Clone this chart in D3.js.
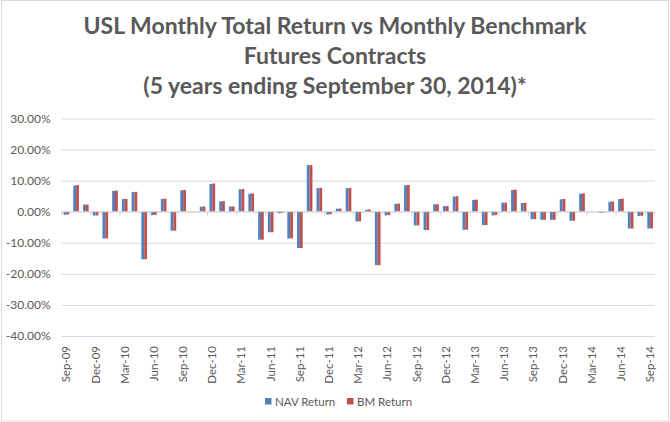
<!DOCTYPE html>
<html>
<head>
<meta charset="utf-8">
<script src="https://cdn.jsdelivr.net/npm/d3@7"></script>
<style>
  html, body { margin: 0; padding: 0; background: #fff; }
  svg { display: block; font-family: Lato, "Open Sans", sans-serif; }
</style>
</head>
<body>
<svg id="chart"></svg>
<script>
// months Sep-09 .. Sep-14
var months = ["Sep-09","Oct-09","Nov-09","Dec-09","Jan-10","Feb-10","Mar-10","Apr-10","May-10","Jun-10",
  "Jul-10","Aug-10","Sep-10","Oct-10","Nov-10","Dec-10","Jan-11","Feb-11","Mar-11","Apr-11",
  "May-11","Jun-11","Jul-11","Aug-11","Sep-11","Oct-11","Nov-11","Dec-11","Jan-12","Feb-12",
  "Mar-12","Apr-12","May-12","Jun-12","Jul-12","Aug-12","Sep-12","Oct-12","Nov-12","Dec-12",
  "Jan-13","Feb-13","Mar-13","Apr-13","May-13","Jun-13","Jul-13","Aug-13","Sep-13","Oct-13",
  "Nov-13","Dec-13","Jan-14","Feb-14","Mar-14","Apr-14","May-14","Jun-14","Jul-14","Aug-14","Sep-14"];

// monthly returns, in percent
var navReturn = [-1.0, 8.4, 2.3, -1.2, -8.6, 6.7, 4.1, 6.3, -15.3, -1.1,
  4.1, -6.1, 6.9, 0.1, 1.6, 8.9, 3.3, 1.7, 7.2, 5.8,
  -9.0, -6.6, -0.5, -8.6, -11.7, 15.0, 7.6, -0.9, 1.0, 7.6,
  -3.1, 0.6, -17.2, -1.2, 2.5, 8.5, -4.4, -5.9, 2.4, 1.8,
  4.9, -5.8, 3.8, -4.3, -1.2, 2.9, 7.0, 2.8, -2.4, -2.6,
  -2.6, 4.0, -2.9, 5.8, 0.0, -0.3, 3.2, 4.1, -5.4, -1.4, -5.4];

var bmReturn = [-0.9, 8.6, 2.3, -1.2, -8.6, 6.8, 4.1, 6.4, -15.3, -1.0,
  4.2, -6.1, 7.0, 0.1, 1.7, 9.1, 3.4, 1.7, 7.3, 5.9,
  -9.0, -6.6, -0.4, -8.6, -11.7, 15.0, 7.7, -0.8, 1.0, 7.7,
  -3.1, 0.7, -17.2, -1.1, 2.6, 8.6, -4.4, -5.9, 2.4, 1.8,
  5.0, -5.8, 3.9, -4.3, -1.1, 2.9, 7.1, 2.9, -2.4, -2.6,
  -2.6, 4.1, -2.9, 5.9, 0.0, -0.3, 3.3, 4.2, -5.4, -1.3, -5.4];

var yTicks = [30, 20, 10, 0, -10, -20, -30, -40];
var seriesNames = ["NAV Return", "BM Return"];
var colors = ["#4F81BD", "#C0504D"];

var svgWidth = 670, svgHeight = 422;
var margin = { top: 118.5, right: 15, bottom: 86, left: 61.5 };
var width = svgWidth - margin.left - margin.right;
var height = svgHeight - margin.top - margin.bottom;

var svg = d3.select("#chart")
  .attr("width", svgWidth)
  .attr("height", svgHeight);

// outer border
svg.append("rect")
  .attr("x", 1.5).attr("y", 0.5)
  .attr("width", svgWidth - 3).attr("height", svgHeight - 1.5)
  .attr("fill", "#fff")
  .attr("stroke", "#d9d9d9");

// title
var titleLines = ["USL Monthly Total Return vs Monthly Benchmark",
                  "Futures Contracts",
                  "(5 years ending September 30, 2014)*"];
svg.append("g").selectAll("text")
  .data(titleLines)
  .enter().append("text")
  .attr("x", 335)
  .attr("y", function(d, i) { return 34 + i * 30; })
  .attr("text-anchor", "middle")
  .attr("font-size", 23)
  .attr("font-weight", "bold")
  .attr("fill", "#595959")
  .text(function(d) { return d; });

var g = svg.append("g")
  .attr("transform", "translate(" + margin.left + "," + margin.top + ")");

var y = d3.scaleLinear().domain([-40, 30]).range([height, 0]);
var x0 = d3.scaleBand().domain(months).range([0, width]).paddingInner(0.42).paddingOuter(0.21);
var x1 = d3.scaleBand().domain(seriesNames).range([0, x0.bandwidth()]);

// gridlines + y labels
var yAxis = g.append("g")
  .call(d3.axisLeft(y).tickValues(yTicks).tickSize(-width)
    .tickFormat(function(d) { return d.toFixed(2) + "%"; }));
yAxis.select(".domain").remove();
yAxis.selectAll(".tick line").attr("stroke", "#d9d9d9");
yAxis.selectAll(".tick text")
  .attr("x", -11)
  .attr("fill", "#595959")
  .attr("font-size", 12)
  .attr("font-family", "Lato, sans-serif");

// bars
var data = months.map(function(m, i) {
  return { month: m, values: [navReturn[i], bmReturn[i]] };
});

var groups = g.append("g").selectAll("g")
  .data(data)
  .enter().append("g")
  .attr("transform", function(d) { return "translate(" + x0(d.month) + ",0)"; });

groups.selectAll("rect")
  .data(function(d) { return d.values.map(function(v, k) { return { key: seriesNames[k], value: v, k: k }; }); })
  .enter().append("rect")
  .attr("x", function(d) { return x1(d.key); })
  .attr("width", x1.bandwidth())
  .attr("y", function(d) { return y(Math.max(0, d.value)); })
  .attr("height", function(d) { return Math.abs(y(d.value) - y(0)); })
  .attr("fill", function(d) { return colors[d.k]; });

// category axis at zero
var step = x0.step();
var labelIdx = d3.range(0, months.length, 3);
var axisG = g.append("g").attr("transform", "translate(0," + y(0) + ")");
axisG.append("line")
  .attr("x1", 0).attr("x2", width)
  .attr("stroke", "#d9d9d9");
axisG.selectAll(".tk")
  .data(labelIdx.concat([months.length]))
  .enter().append("line")
  .attr("class", "tk")
  .attr("x1", function(i) { return i * step; })
  .attr("x2", function(i) { return i * step; })
  .attr("y1", 0).attr("y2", 4)
  .attr("stroke", "#d9d9d9");

// month labels, rotated
g.append("g").selectAll("text")
  .data(labelIdx)
  .enter().append("text")
  .attr("transform", function(i) {
    var cx = x0(months[i]) + x0.bandwidth() / 2;
    return "translate(" + (cx + 4) + "," + (height + 10) + ") rotate(-90)";
  })
  .attr("text-anchor", "end")
  .attr("font-size", 11.5)
  .attr("fill", "#595959")
  .text(function(i) { return months[i]; });

// legend
var legend = svg.append("g");
var legendX = [265, 347];
seriesNames.forEach(function(name, k) {
  legend.append("rect")
    .attr("x", legendX[k]).attr("y", 398)
    .attr("width", 6.5).attr("height", 6.5)
    .attr("fill", colors[k]);
  legend.append("text")
    .attr("x", legendX[k] + 10).attr("y", 405.5)
    .attr("font-size", 11.5)
    .attr("fill", "#595959")
    .text(name);
});
</script>
</body>
</html>
